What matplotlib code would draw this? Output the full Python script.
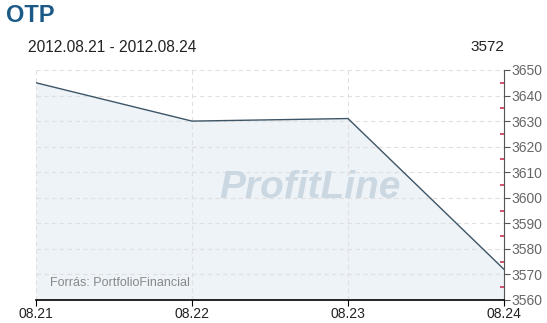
import matplotlib
matplotlib.use("Agg")
import matplotlib.pyplot as plt
from matplotlib.ticker import MultipleLocator

dates = ["08.21", "08.22", "08.23", "08.24"]
prices = [3645, 3630, 3631, 3572]
y_ticks = list(range(3560, 3651, 10))

plt.rcParams["font.family"] = ["Liberation Sans", "DejaVu Sans"]

fig = plt.figure(figsize=(5.47, 3.23), dpi=100)
ax = fig.add_axes([36 / 547, 1 - 300 / 323, (504 - 36) / 547, (300 - 70) / 323])

x = list(range(len(dates)))
ax.fill_between(x, prices, 3560, color="#eef3f7", lw=0, zorder=1)
ax.plot(x, prices, color="#3d5566", lw=1.0, zorder=3)

ax.set_xlim(0, len(dates) - 1)
ax.set_ylim(3560, 3650)
ax.set_xticks(x)
ax.set_xticklabels(dates)
ax.set_yticks(y_ticks)
ax.yaxis.set_minor_locator(MultipleLocator(5))

ax.yaxis.tick_right()
ax.grid(True, which="major", color="#e0e0e0", ls=(0, (4, 3)), lw=0.8, zorder=0)

for side in ["top", "left"]:
    ax.spines[side].set_visible(False)
ax.spines["right"].set_color("#555555")
ax.spines["right"].set_linewidth(0.8)
ax.spines["bottom"].set_color("#000000")
ax.spines["bottom"].set_linewidth(1.2)

ax.tick_params(axis="y", which="major", direction="out", length=4, width=0.8,
               color="#555555", labelsize=10, labelcolor="#666666", pad=1)
ax.tick_params(axis="y", which="minor", direction="in", length=3, width=1.2,
               color="#cc3355")
ax.tick_params(axis="x", which="major", direction="out", length=4, width=0.8,
               color="#000000", labelsize=10, labelcolor="#222222", pad=1)

ax.text(0.585, 0.487, "ProfitLine", transform=ax.transAxes, ha="center",
        va="center", fontsize=28, fontweight="bold", style="italic",
        color="#cbd8e2", zorder=2)
ax.text(0.03, 0.05, "Forrás: PortfolioFinancial", transform=ax.transAxes,
        ha="left", va="bottom", fontsize=9, color="#888888", zorder=2)

fig.text(6 / 547, 1 - 16 / 323, "OTP", ha="left", va="center", fontsize=17,
         fontweight="bold", color="#1b5a86")
fig.text(28 / 547, 1 - 47 / 323, "2012.08.21 - 2012.08.24", ha="left",
         va="center", fontsize=11.2, color="#222222")
fig.text(504 / 547, 1 - 47 / 323, "3572", ha="right", va="center",
         fontsize=11, color="#222222")

fig.savefig("out.png", dpi=100)
